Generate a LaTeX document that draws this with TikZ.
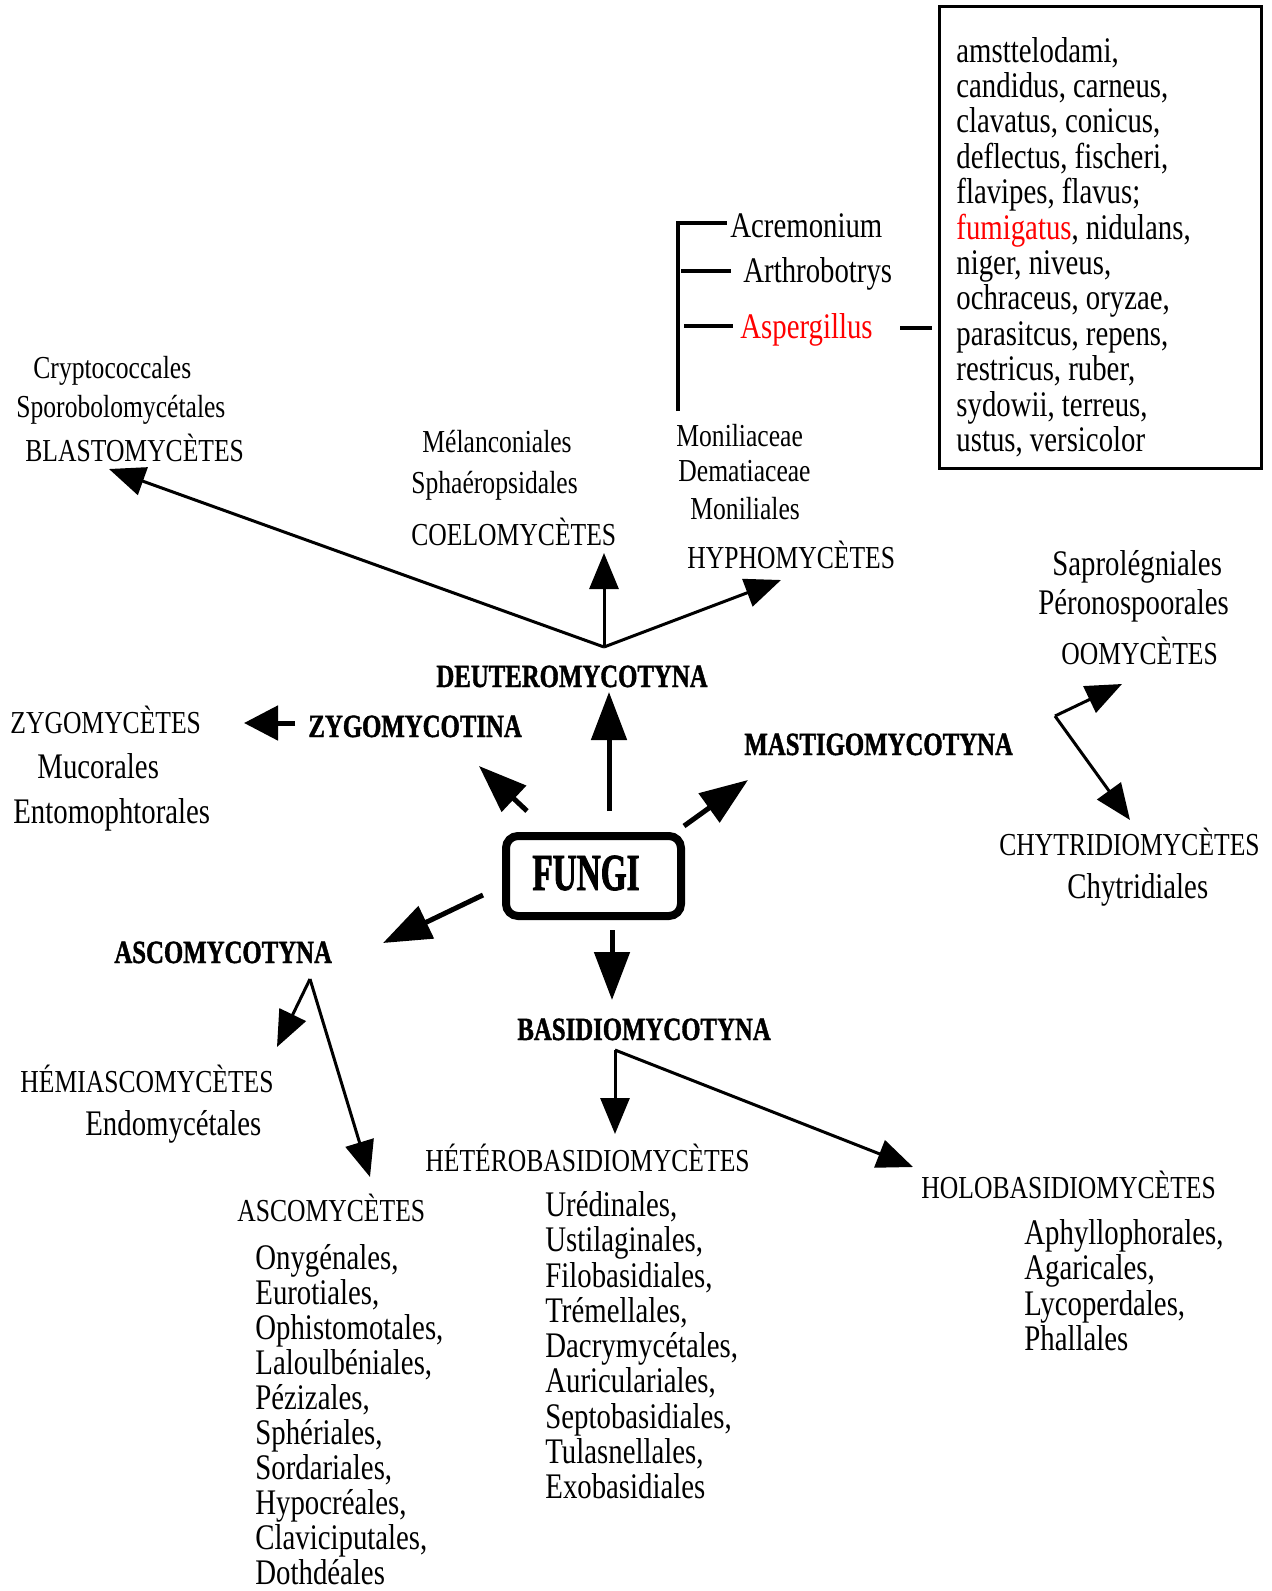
\documentclass[tikz,border=0pt]{standalone}
\usepackage{fontspec}
\setmainfont{Liberation Serif}[FakeStretch=0.8]
\newfontfamily\headbold{Liberation Serif Bold}[FakeStretch=0.765, FakeBold=1.2]
\newfontfamily\fungifont{Liberation Serif Bold}[FakeStretch=0.64, FakeBold=1.5]
\usetikzlibrary{arrows.meta}
\begin{document}
\begin{tikzpicture}[x=0.5pt,y=-0.5pt,
  hd/.style={font=\fontsize{16pt}{18pt}\selectfont, inner sep=0pt, anchor=base west},
  lst/.style={font=\fontsize{18pt}{18pt}\selectfont, inner sep=0pt, anchor=base west},
  bhd/.style={font=\headbold\fontsize{16.2pt}{18pt}\selectfont, inner sep=0pt, anchor=base west},
  bigarrow/.style={-{Triangle[length=24pt,width=17.5pt]}, line width=2.5pt},
  zygarrow/.style={-{Triangle[length=17pt,width=17pt]}, line width=2.5pt},
  subarrow/.style={-{Triangle[length=18pt,width=14.5pt]}, line width=1.5pt},
  treeline/.style={line width=2pt},
  framebox/.style={draw, line width=1.5pt},
]
\useasboundingbox (0,0) rectangle (1272,1591);

% ---------- FUNGI ----------
\draw[line width=4pt, rounded corners=6pt] (506,836) rectangle (681,916);
\node[font=\fungifont\fontsize{26pt}{28pt}\selectfont, inner sep=0pt, anchor=base] (fungi) at (586,890) {FUNGI};

% ---------- bold headings ----------
\node[bhd] (deut) at (436,687) {DEUTEROMYCOTYNA};
\node[bhd] (zygo) at (308,737) {ZYGOMYCOTINA};
\node[bhd] (mast) at (744,755) {MASTIGOMYCOTYNA};
\node[bhd] (asco) at (114,963) {ASCOMYCOTYNA};
\node[bhd] (basi) at (517,1040) {BASIDIOMYCOTYNA};

% ---------- regular headings ----------
\node[hd] (crypto) at (33,378) {Cryptococcales};
\node[hd] (sporo) at (16,417) {Sporobolomycétales};
\node[hd] (blasto) at (25,461) {BLASTOMYCÈTES};
\node[hd] (melan) at (422,452) {Mélanconiales};
\node[hd] (sphaero) at (411,493) {Sphaéropsidales};
\node[hd] (coelo) at (411,545) {COELOMYCÈTES};
\node[hd] (monil) at (676,446) {Moniliaceae};
\node[hd] (demat) at (678,481) {Dematiaceae};
\node[hd] (monial) at (690,519) {Moniliales};
\node[hd] (hypho) at (687,568) {HYPHOMYCÈTES};
\node[hd] (oomy) at (1061,664) {OOMYCÈTES};
\node[hd] (zygomy) at (10,733) {ZYGOMYCÈTES};
\node[hd] (chytri) at (999,855) {CHYTRIDIOMYCÈTES};
\node[hd] (hemi) at (20,1092) {HÉMIASCOMYCÈTES};
\node[hd] (ascomy) at (237,1221) {ASCOMYCÈTES};
\node[hd] (hetero) at (425,1171) {HÉTÉROBASIDIOMYCÈTES};
\node[hd] (holo) at (921,1198) {HOLOBASIDIOMYCÈTES};

% ---------- list text ----------
\node[lst] (acre) at (730,237) {Acremonium};
\node[lst] (arthro) at (743,282) {Arthrobotrys};
\node[lst, text=red] (asper) at (740,338) {Aspergillus};
\node[lst] (saprol) at (1052,575) {Saprolégniales};
\node[lst] (perono) at (1038,614) {Péronospoorales};
\node[lst] (mucor) at (37,778) {Mucorales};
\node[lst] (entomo) at (13,823) {Entomophtorales};
\node[lst] (chytrial) at (1067,898) {Chytridiales};
\node[lst] (endomy) at (85,1135) {Endomycétales};

\foreach \t [count=\i from 0] in {{amsttelodami,},{candidus, carneus,},{clavatus, conicus,},{deflectus, fischeri,},{flavipes, flavus;},{\textcolor{red}{fumigatus}, nidulans,},{niger, niveus,},{ochraceus, oryzae,},{parasitcus, repens,},{restricus, ruber,},{sydowii, terreus,},{ustus, versicolor}}
  \node[lst] (sp\i) at (956,{62+35.4*\i}) {\t};

\foreach \t [count=\i from 0] in {{Onygénales,},{Eurotiales,},{Ophistomotales,},{Laloulbéniales,},{Pézizales,},{Sphériales,},{Sordariales,},{Hypocréales,},{Claviciputales,},{Dothdéales}}
  \node[lst] (asl\i) at (255,{1269+35.05*\i}) {\t};

\foreach \t [count=\i from 0] in {{Urédinales,},{Ustilaginales,},{Filobasidiales,},{Trémellales,},{Dacrymycétales,},{Auriculariales,},{Septobasidiales,},{Tulasnellales,},{Exobasidiales}}
  \node[lst] (hel\i) at (545,{1216.5+35.25*\i}) {\t};

\foreach \t [count=\i from 0] in {{Aphyllophorales,},{Agaricales,},{Lycoperdales,},{Phallales}}
  \node[lst] (hol\i) at (1024,{1244.5+35.3*\i}) {\t};

% ---------- species box ----------
\draw[framebox] (939,6) rectangle (1261,468);

% ---------- tree ----------
\coordinate (tTop) at (678,223);
\coordinate (tBot) at (678,411);
\draw[treeline] (tBot) -- (tTop) -- (727,223);
\draw[treeline] (681,271) -- (731,271);
\draw[treeline] (684,326) -- (733,326);
\coordinate (dashA) at (900,328);
\coordinate (dashB) at (932,328);
\draw[treeline] (dashA) -- (dashB);

% ---------- arrows from FUNGI ----------
\coordinate (fU0) at (609,811);  \coordinate (fU1) at (609,692);
\coordinate (fZ0) at (527,811);  \coordinate (fZ1) at (479,766);
\coordinate (fM0) at (684,826);  \coordinate (fM1) at (748,780);
\coordinate (fA0) at (483,895);  \coordinate (fA1) at (383,943);
\coordinate (fB0) at (612,930);  \coordinate (fB1) at (612,1000);
\draw[bigarrow] (fU0) -- (fU1);
\draw[bigarrow] (fZ0) -- (fZ1);
\draw[bigarrow] (fM0) -- (fM1);
\draw[bigarrow] (fA0) -- (fA1);
\draw[bigarrow] (fB0) -- (fB1);

% ZYGOMYCOTINA -> ZYGOMYCETES
\coordinate (zy0) at (295,723); \coordinate (zy1) at (244,723);
\draw[zygarrow] (zy0) -- (zy1);

% DEUTERO branches
\coordinate (jD) at (604,647);
\coordinate (tBl) at (109,469);
\coordinate (tCo) at (604,553);
\coordinate (tHy) at (781,580);
\draw[subarrow] (jD) -- (tBl);
\draw[subarrow] (jD) -- (tCo);
\draw[subarrow] (jD) -- (tHy);

% MASTIGO branches
\coordinate (jM) at (1055,716);
\coordinate (tOo) at (1122,684);
\coordinate (tCh) at (1130,820);
\draw[subarrow] (jM) -- (tOo);
\draw[subarrow] (jM) -- (tCh);

% ASCO branches
\coordinate (jA) at (310,979);
\coordinate (tHe) at (277,1047);
\coordinate (tAs) at (370,1177);
\draw[subarrow] (jA) -- (tHe);
\draw[subarrow] (jA) -- (tAs);

% BASIDIO branches
\coordinate (jB) at (615,1050);
\coordinate (tHt) at (615,1134);
\coordinate (tHo) at (913,1167);
\draw[subarrow] (jB) -- (tHt);
\draw[subarrow] (jB) -- (tHo);
\end{tikzpicture}
\end{document}
